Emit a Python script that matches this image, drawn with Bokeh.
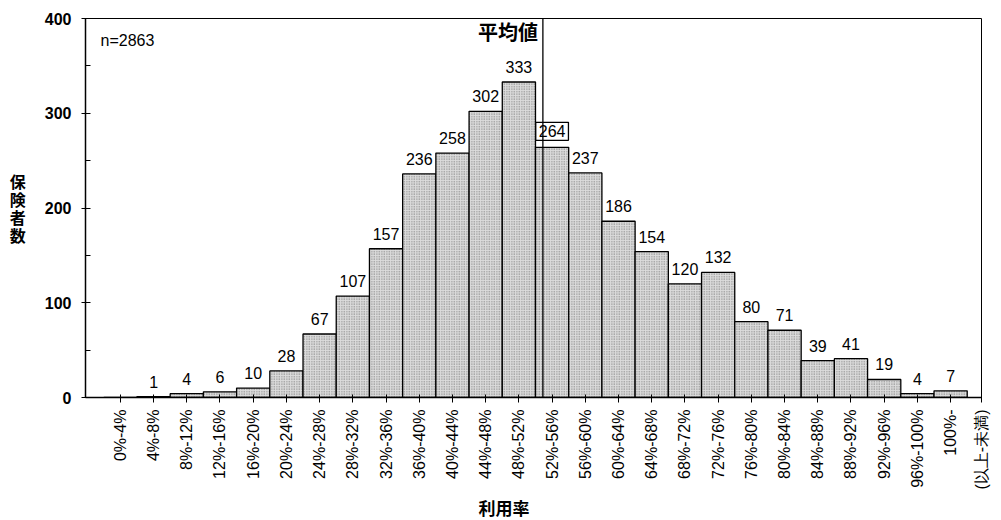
import math
from bokeh.plotting import figure
from bokeh.models import Range1d, Label, FixedTicker, Span, ColumnDataSource, Title
from bokeh.core.properties import value
from bokeh.embed import file_html
from bokeh.resources import INLINE

# ---- data ----
categories = ["0%-4%", "4%-8%", "8%-12%", "12%-16%", "16%-20%", "20%-24%", "24%-28%",
              "28%-32%", "32%-36%", "36%-40%", "40%-44%", "44%-48%", "48%-52%", "52%-56%",
              "56%-60%", "60%-64%", "64%-68%", "68%-72%", "72%-76%", "76%-80%", "80%-84%",
              "84%-88%", "88%-92%", "92%-96%", "96%-100%", "100%-"]
counts = [0, 1, 4, 6, 10, 28, 67, 107, 157, 236, 258, 302, 333, 264, 237, 186, 154,
          120, 132, 80, 71, 39, 41, 19, 4, 7]
y_ticks = [0, 100, 200, 300, 400]
y_minor = [50, 150, 250, 350]
y_title = "保\n険\n者\n数"
x_title = "利用率"
x_note = "(以上-未満)"
mean_label = "平均値"

idx = list(range(len(categories)))
n_total = sum(counts)
mean_idx = sum(i * c for i, c in zip(idx, counts)) / n_total
boxed = int(mean_idx + 0.5)

X0, X1 = -1.05, 25.93
p = figure(width=1000, height=519, x_range=Range1d(X0, X1), y_range=Range1d(0, 400),
           output_backend="svg", toolbar_location=None,
           min_border_left=85, min_border_top=18, min_border_right=19, min_border_bottom=0)
p.xgrid.visible = False
p.ygrid.visible = False
p.outline_line_color = "black"
p.outline_line_width = 1
p.background_fill_color = "white"
p.border_fill_color = "white"

src = ColumnDataSource(dict(x=idx, count=counts))
p.vbar(x="x", top="count", width=1.0, source=src, fill_color="#dcdcdc",
       hatch_pattern=".", hatch_color="#707070", hatch_scale=2.5, hatch_weight=1,
       line_color="black", line_width=1.3)

lab_x = [i for i, c in zip(idx, counts) if c > 0 and i != boxed]
lab_y = [c for i, c in zip(idx, counts) if c > 0 and i != boxed]
lab_t = [str(c) for c in lab_y]
p.text(x=lab_x, y=lab_y, text=lab_t, text_align="center", text_baseline="bottom",
       y_offset=-9, text_font=value("Liberation Sans"), text_font_size="16px",
       text_color="black")

p.add_layout(Label(x=boxed, y=counts[boxed], text=str(counts[boxed]), text_align="center",
                   text_baseline="bottom", y_offset=7, text_font="Liberation Sans",
                   text_font_size="16px", text_color="black", border_line_color="black",
                   border_line_width=1.3, background_fill_color="white", padding=3))

p.add_layout(Span(location=mean_idx, dimension="height", line_color="black", line_width=1.3))
p.add_layout(Label(x=mean_idx, y=400, x_offset=-5, y_offset=-13, text=mean_label,
                   text_align="right", text_baseline="middle", text_font="Noto Sans CJK JP",
                   text_font_style="bold", text_font_size="20px", text_color="black"))
p.add_layout(Label(x=X0, y=400, x_offset=15, y_offset=-22, text=f"n={n_total}",
                   text_align="left", text_baseline="middle", text_font="Liberation Sans",
                   text_font_size="16px", text_color="black"))

# axes
ticks = idx + [X1]
p.xaxis.ticker = FixedTicker(ticks=ticks)
overrides = {i: c for i, c in zip(idx, categories)}
overrides[X1] = x_note
p.xaxis.major_label_overrides = overrides
p.xaxis.major_label_orientation = math.pi / 2
p.xaxis.major_label_text_font = "Liberation Sans"
p.xaxis.major_label_text_font_size = "16px"
p.xaxis.major_label_text_color = "black"
p.xaxis.major_tick_in = 3
p.xaxis.major_tick_out = 5
p.xaxis.minor_tick_line_color = None
p.xaxis.major_label_standoff = 7
p.xaxis.axis_line_width = 1.5
p.xaxis.axis_line_color = "black"
p.xaxis.major_tick_line_color = "black"

p.yaxis.ticker = FixedTicker(ticks=y_ticks, minor_ticks=y_minor)
p.yaxis.major_label_text_font = "Liberation Sans"
p.yaxis.major_label_text_font_style = "bold"
p.yaxis.major_label_text_font_size = "16px"
p.yaxis.major_label_text_color = "black"
p.yaxis.major_tick_in = 5
p.yaxis.major_tick_out = 4
p.yaxis.minor_tick_in = 5
p.yaxis.minor_tick_out = 0
p.yaxis.major_label_standoff = 10
p.yaxis.axis_line_width = 1.5
p.yaxis.axis_line_color = "black"
p.yaxis.major_tick_line_color = "black"
p.yaxis.minor_tick_line_color = "black"
p.yaxis.axis_label = y_title
p.yaxis.axis_label_orientation = "horizontal"
p.yaxis.axis_label_standoff = 16
p.yaxis.axis_label_text_font = "Noto Sans CJK JP"
p.yaxis.axis_label_text_font_style = "bold"
p.yaxis.axis_label_text_font_size = "16px"
p.yaxis.axis_label_text_line_height = 0.75
p.yaxis.axis_label_text_color = "black"

p.add_layout(Title(text=x_title, align="left", offset=393, standoff=0,
                   text_font="Noto Sans CJK JP", text_font_style="bold",
                   text_font_size="17px", text_color="black"),
             "below")

open("out.html", "w").write(file_html(p, INLINE))
